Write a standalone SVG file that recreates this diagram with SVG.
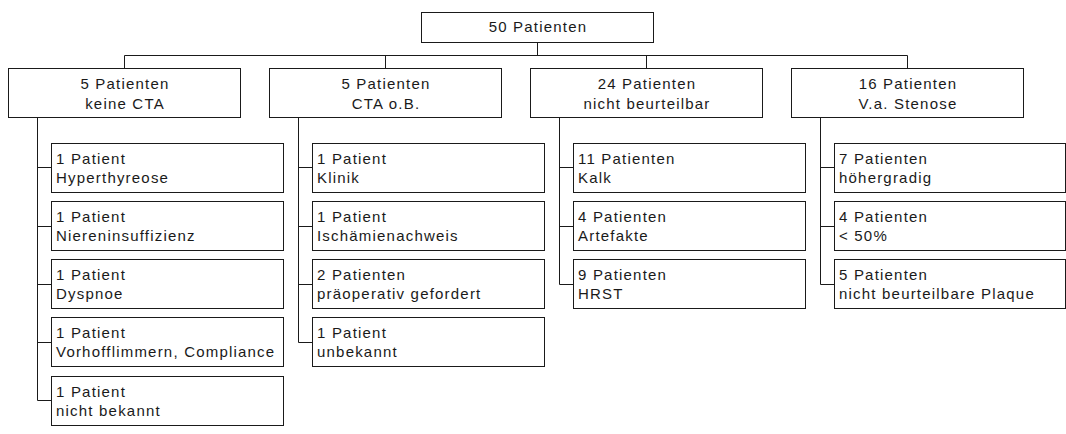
<svg xmlns="http://www.w3.org/2000/svg" width="1066" height="434" viewBox="0 0 1066 434">
<style>
rect{fill:#fff;stroke:#1a1a1a;stroke-width:1}
.c path{fill:none;stroke:#1a1a1a;stroke-width:1}
text{font-family:"Liberation Sans",Arial,sans-serif;font-size:15px;letter-spacing:1.2px;fill:#1a1a1a}
.m{text-anchor:middle}
</style>
<rect x="0" y="0" width="1066" height="434" style="stroke:none"/>
<g class="c">
<path d="M537.5 42.5V55.5M124.5 55.5H907.5M124.5 55.5V68.5M385.5 55.5V68.5M646.5 55.5V68.5M907.5 55.5V68.5"/>
<path d="M37.5 117.5V400.5M37.5 167.5H51.5M37.5 226.5H51.5M37.5 284.5H51.5M37.5 342.5H51.5M37.5 400.5H51.5"/>
<path d="M298.5 117.5V342.5M298.5 167.5H312.5M298.5 226.5H312.5M298.5 284.5H312.5M298.5 342.5H312.5"/>
<path d="M559.5 117.5V284.5M559.5 167.5H573.5M559.5 226.5H573.5M559.5 284.5H573.5"/>
<path d="M820.5 117.5V284.5M820.5 167.5H834.5M820.5 226.5H834.5M820.5 284.5H834.5"/>
</g>
<g id="n0"><rect x="421.5" y="12.5" width="232" height="30"/><text class="m" x="538" y="31.5">50 Patienten</text></g>
<g id="n1"><rect x="8.5" y="68.5" width="232" height="49"/><text class="m" x="125" y="88.5">5 Patienten</text><text class="m" x="125" y="108.5">keine CTA</text></g>
<g id="n2"><rect x="269.5" y="68.5" width="232" height="49"/><text class="m" x="386" y="88.5">5 Patienten</text><text class="m" x="386" y="108.5">CTA o.B.</text></g>
<g id="n3"><rect x="530.5" y="68.5" width="232" height="49"/><text class="m" x="647" y="88.5">24 Patienten</text><text class="m" x="647" y="108.5">nicht beurteilbar</text></g>
<g id="n4"><rect x="791.5" y="68.5" width="232" height="49"/><text class="m" x="908" y="88.5">16 Patienten</text><text class="m" x="908" y="108.5">V.a. Stenose</text></g>

<g id="n1a"><rect x="51.5" y="143.5" width="232" height="49"/><text x="56" y="163.5">1 Patient</text><text x="56" y="182.5">Hyperthyreose</text></g>
<g id="n1b"><rect x="51.5" y="201.5" width="232" height="49"/><text x="56" y="221.5">1 Patient</text><text x="56" y="240.5">Niereninsuffizienz</text></g>
<g id="n1c"><rect x="51.5" y="259.5" width="232" height="49"/><text x="56" y="279.5">1 Patient</text><text x="56" y="298.5">Dyspnoe</text></g>
<g id="n1d"><rect x="51.5" y="317.5" width="232" height="49"/><text x="56" y="337.5">1 Patient</text><text x="56" y="356.5">Vorhofflimmern, Compliance</text></g>
<g id="n1e"><rect x="51.5" y="376.5" width="232" height="49"/><text x="56" y="396.5">1 Patient</text><text x="56" y="415.5">nicht bekannt</text></g>

<g id="n2a"><rect x="312.5" y="143.5" width="232" height="49"/><text x="317" y="163.5">1 Patient</text><text x="317" y="182.5">Klinik</text></g>
<g id="n2b"><rect x="312.5" y="201.5" width="232" height="49"/><text x="317" y="221.5">1 Patient</text><text x="317" y="240.5">Ischämienachweis</text></g>
<g id="n2c"><rect x="312.5" y="259.5" width="232" height="49"/><text x="317" y="279.5">2 Patienten</text><text x="317" y="298.5">präoperativ gefordert</text></g>
<g id="n2d"><rect x="312.5" y="317.5" width="232" height="49"/><text x="317" y="337.5">1 Patient</text><text x="317" y="356.5">unbekannt</text></g>

<g id="n3a"><rect x="573.5" y="143.5" width="232" height="49"/><text x="578" y="163.5">11 Patienten</text><text x="578" y="182.5">Kalk</text></g>
<g id="n3b"><rect x="573.5" y="201.5" width="232" height="49"/><text x="578" y="221.5">4 Patienten</text><text x="578" y="240.5">Artefakte</text></g>
<g id="n3c"><rect x="573.5" y="259.5" width="232" height="49"/><text x="578" y="279.5">9 Patienten</text><text x="578" y="298.5">HRST</text></g>

<g id="n4a"><rect x="834.5" y="143.5" width="231" height="49"/><text x="839" y="163.5">7 Patienten</text><text x="839" y="182.5">höhergradig</text></g>
<g id="n4b"><rect x="834.5" y="201.5" width="231" height="49"/><text x="839" y="221.5">4 Patienten</text><text x="839" y="240.5">&lt; 50%</text></g>
<g id="n4c"><rect x="834.5" y="259.5" width="231" height="49"/><text x="839" y="279.5">5 Patienten</text><text x="839" y="298.5">nicht beurteilbare Plaque</text></g>
</svg>
